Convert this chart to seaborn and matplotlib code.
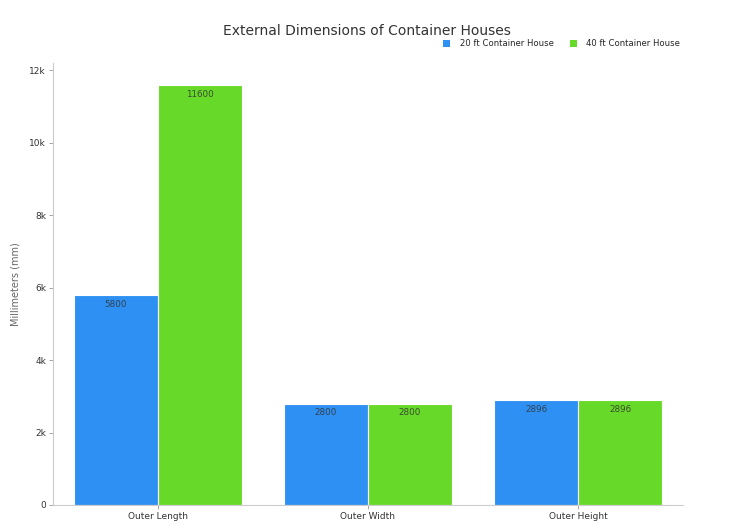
import matplotlib
matplotlib.use("Agg")
import matplotlib.pyplot as plt
import seaborn as sns
import pandas as pd
from matplotlib.ticker import FuncFormatter
from matplotlib.patches import Patch

categories = ["Outer Length", "Outer Width", "Outer Height"]
series_names = ["20 ft Container House", "40 ft Container House"]
values_20ft = [5800, 2800, 2896]
values_40ft = [11600, 2800, 2896]
colors = ["#2e90f2", "#67d928"]

df = pd.DataFrame({
    "Dimension": categories * 2,
    "Series": [series_names[0]] * 3 + [series_names[1]] * 3,
    "Value": values_20ft + values_40ft,
})

sns.set_style("white")
plt.rcParams["font.family"] = ["DejaVu Sans"]

fig = plt.figure(figsize=(7.4, 5.31), dpi=100)
ax = fig.add_axes([53/740, 26/531, 630/740, 442/531])

sns.barplot(data=df, x="Dimension", y="Value", hue="Series", order=categories,
            hue_order=series_names, palette=colors, width=0.8, saturation=1,
            edgecolor="white", linewidth=0.8, ax=ax, legend=False)

ax.set_xlim(-0.5, 2.5)
ax.set_ylim(0, 12200)
ax.set_yticks([0, 2000, 4000, 6000, 8000, 10000, 12000])
ax.yaxis.set_major_formatter(FuncFormatter(lambda v, p: "0" if v == 0 else f"{int(v/1000)}k"))
ax.tick_params(axis="both", left=True, bottom=True, labelsize=6.5, length=3, width=0.6,
               color="#999999", labelcolor="#333333", pad=2)
ax.set_xlabel("")
ax.set_ylabel("Millimeters (mm)", fontsize=7, color="#666666", labelpad=6)
for s in ["top", "right"]:
    ax.spines[s].set_visible(False)
for s in ["left", "bottom"]:
    ax.spines[s].set_color("#cccccc")
    ax.spines[s].set_linewidth(0.8)

for cont in ax.containers:
    ax.bar_label(cont, labels=[f"{int(v)}" for v in cont.datavalues], label_type="edge",
                 padding=-10, fontsize=6.3, color="#333333", alpha=0.85)

fig.text(367/740, 1 - 31/531, "External Dimensions of Container Houses", ha="center",
         va="center", fontsize=10, color="#333333")

handles = [Patch(facecolor=c, edgecolor="none") for c in colors]
fig.legend(handles, series_names, loc="center right", bbox_to_anchor=(688/740, 1 - 44/531),
           ncol=2, frameon=False, fontsize=6.1, handlelength=0.8, handleheight=0.8,
           columnspacing=2.0, handletextpad=1.1)

fig.savefig("out.png", dpi=100)
